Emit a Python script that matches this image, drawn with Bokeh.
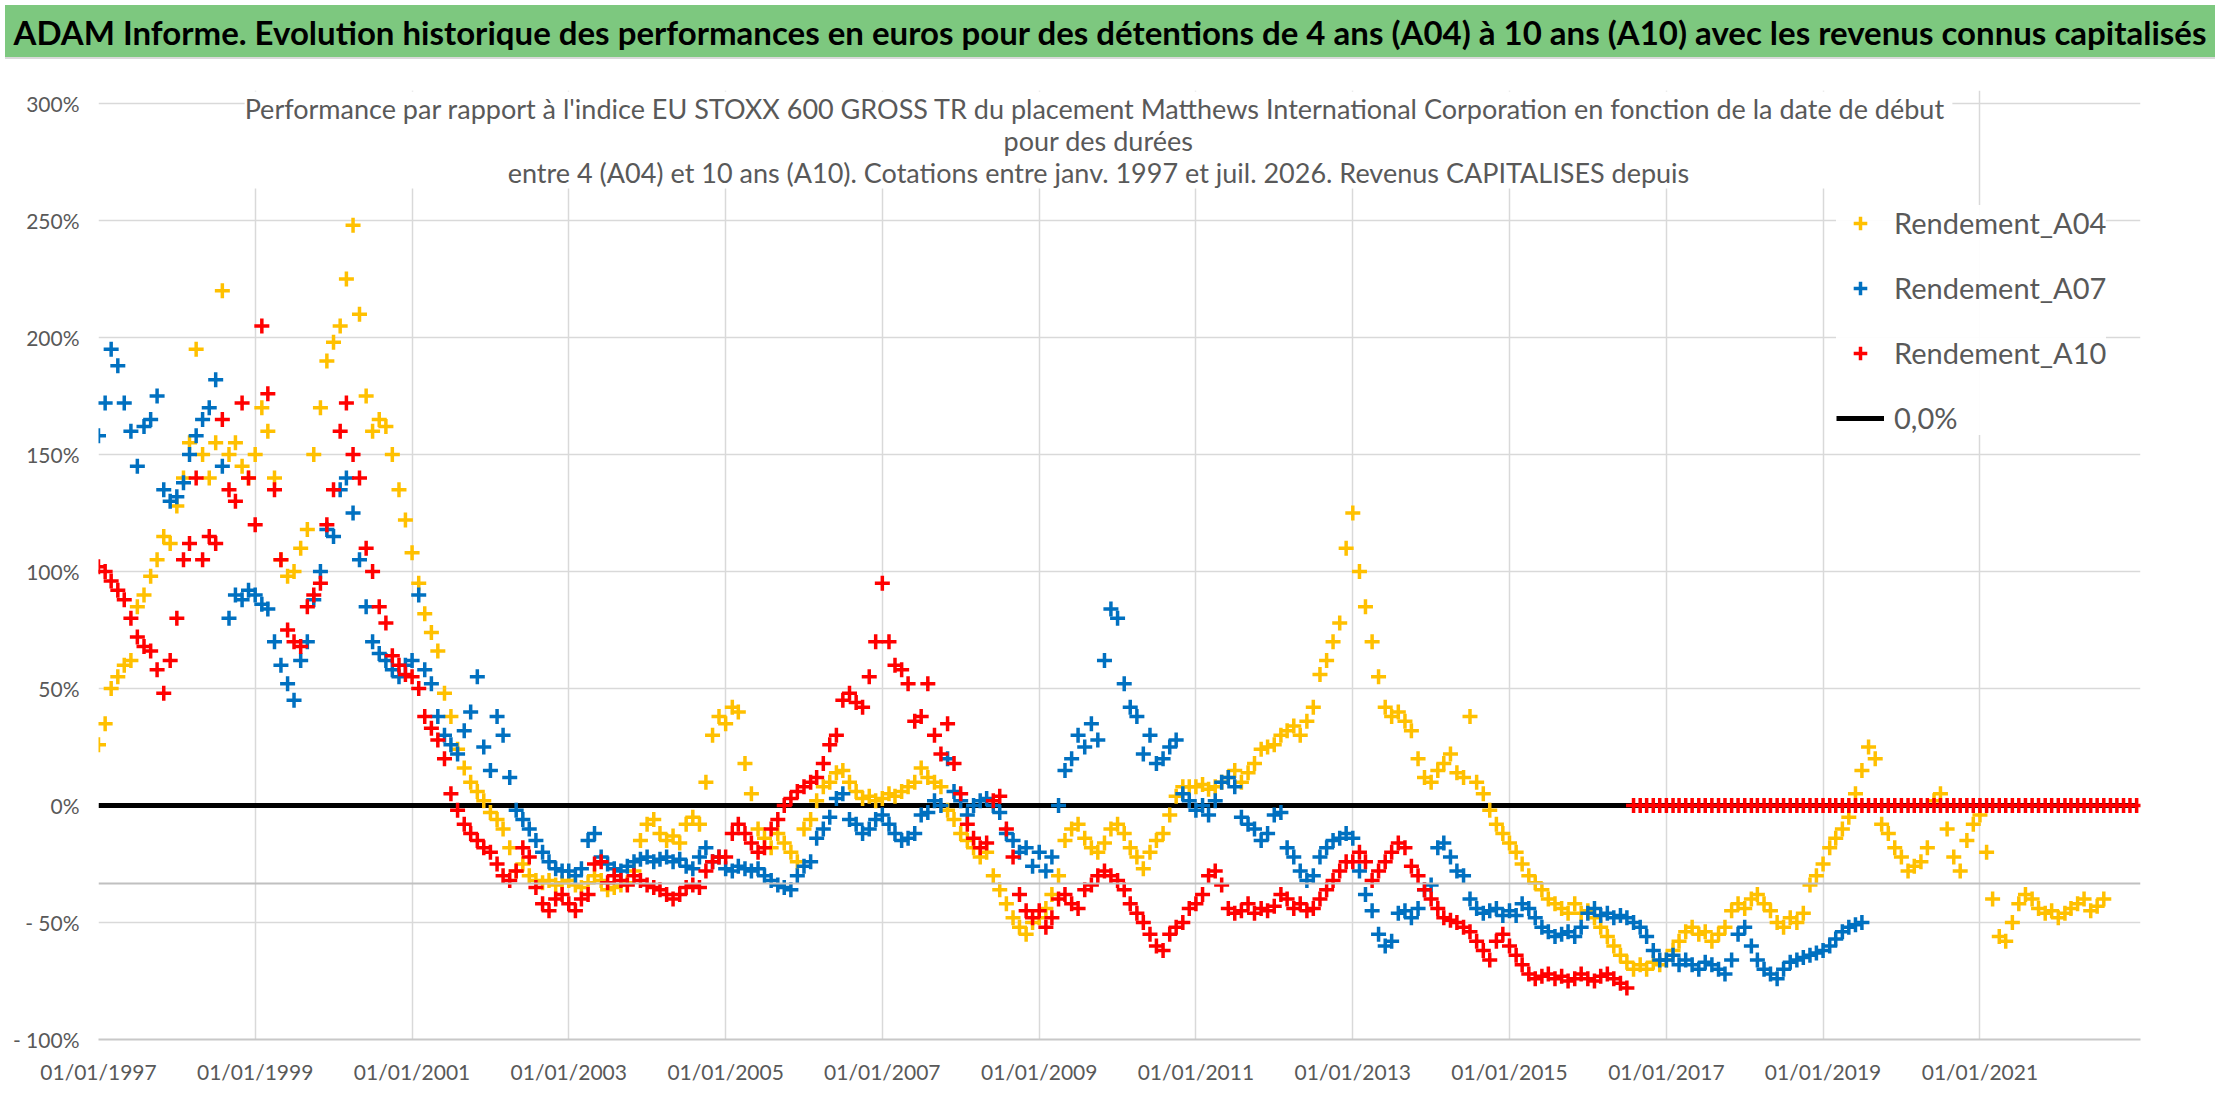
import pandas as pd
from bokeh.embed import file_html
from bokeh.layouts import column
from bokeh.models import (ColumnDataSource, DatetimeTickFormatter, Div, FixedTicker, Label,
                          Legend, LegendItem, Range1d, Span)
from bokeh.plotting import figure
from bokeh.resources import INLINE

FONT = "Lato"
GREY = "#595959"
GRID = "#D9D9D9"
BAND = "#7DC87F"

header = ("ADAM Informe. Evolution historique des performances en euros pour des détentions "
          "de 4 ans (A04) à 10 ans (A10) avec les revenus connus capitalisés")
chart_title = ("Performance par rapport à l'indice EU STOXX 600 GROSS TR  du placement Matthews "
               "International Corporation en fonction de la date de début\n"
               "pour des durées\n"
               "entre 4 (A04) et 10 ans (A10). Cotations entre janv. 1997 et juil. 2026. "
               "Revenus CAPITALISES depuis")

# monthly values (%)
a04_start = "1997-01-01"
a04 = [
    26, 35, 50, 55, 60, 62, 85, 90, 98, 105, 115, 112,
    128, 140, 155, 195, 150, 140, 155, 220, 150, 155, 145, 140,
    150, 170, 160, 140, 105, 98, 100, 110, 118, 150, 170, 190,
    198, 205, 225, 248, 210, 175, 160, 165, 162, 150, 135, 122,
    108, 95, 82, 74, 66, 48, 38, 24, 16, 10, 6, 2,
    -3, -6, -10, -18, -28, -25, -30, -32, -33, -32, -34, -33,
    -32, -34, -35, -33, -30, -32, -36, -35, -34, -33, -28, -15,
    -8, -6, -12, -15, -13, -16, -8, -5, -8, 10, 30, 38,
    35, 42, 40, 18, 5, -10, -14, -18, -12, -16, -20, -24,
    -10, -6, 2, 8, 10, 14, 15, 10, 6, 3, 4, 2,
    3, 5, 4, 6, 8, 10, 16, 12, 10, 8, -2, -6,
    -12, -15, -18, -22, -20, -30, -36, -42, -48, -52, -55, -50,
    -48, -44, -38, -30, -15, -10, -8, -14, -18, -20, -16, -10,
    -8, -12, -18, -22, -27, -20, -15, -12, -4, 4, 8, 8,
    8, 9, 7, 8, 10, 12, 15, 10, 14, 18, 24, 25,
    26, 30, 32, 34, 30, 36, 42, 56, 62, 70, 78, 110,
    125, 100, 85, 70, 55, 42, 38, 40, 36, 32, 20, 12,
    10, 15, 18, 22, 14, 12, 38, 10, 5, -2, -8, -12,
    -16, -20, -25, -30, -33, -36, -40, -42, -44, -46, -42, -46,
    -45, -48, -52, -56, -60, -64, -67, -70, -68, -70, -67, -68,
    -66, -62, -58, -54, -52, -55, -54, -58, -55, -52, -45, -42,
    -44, -40, -38, -42, -45, -50, -52, -48, -50, -46, -34, -30,
    -25, -18, -14, -10, -5, 5, 15, 25, 20, -8, -12, -18,
    -22, -28, -26, -24, -18, 2, 5, -10, -22, -28, -15, -8,
    -4, -20, -40, -56, -58, -50, -42, -38, -40, -44, -46, -45,
    -48, -46, -44, -42, -40, -45, -43, -40,
]

a07_start = "1997-01-01"
a07 = [
    158, 172, 195, 188, 172, 160, 145, 162, 165, 175, 135, 130,
    132, 138, 150, 158, 165, 170, 182, 145, 80, 90, 88, 92,
    90, 86, 84, 70, 60, 52, 45, 62, 70, 88, 100, 118,
    115, 135, 140, 125, 105, 85, 70, 65, 62, 58, 55, 60,
    62, 90, 58, 52, 38, 30, 26, 22, 32, 40, 55, 25,
    15, 38, 30, 12, -2, -6, -10, -15, -20, -24, -27, -28,
    -28, -30, -27, -15, -12, -22, -25, -27, -28, -26, -24, -23,
    -22, -24, -23, -22, -24, -23, -26, -27, -22, -18, -24, -22,
    -27, -28, -26, -27, -28, -27, -30, -32, -34, -35, -36, -30,
    -26, -24, -14, -10, -5, 3, 5, -6, -8, -12, -10, -6,
    -4, -8, -12, -15, -14, -12, -4, -3, 2, 0, 20, 6,
    2, -4, 0, 2, 3, 0, -3, -12, -15, -20, -18, -26,
    -20, -28, -22, 0, 15, 20, 30, 25, 35, 28, 62, 84,
    80, 52, 42, 38, 22, 30, 18, 20, 25, 28, 5, 2,
    -2, 0, -4, 2, 10, 12, 8, -5, -8, -10, -15, -12,
    -4, -3, -18, -22, -28, -32, -30, -22, -18, -15, -14, -12,
    -14, -28, -38, -45, -55, -60, -58, -46, -45, -48, -44, -36,
    -34, -18, -16, -22, -28, -30, -40, -44, -46, -45, -44, -47,
    -45, -47, -42, -44, -48, -52, -54, -56, -55, -54, -56, -52,
    -46, -44, -47, -46, -48, -47, -48, -50, -52, -56, -62, -66,
    -66, -64, -68, -66, -68, -70, -67, -68, -70, -72, -66, -55,
    -52, -60, -66, -70, -72, -74, -70, -67, -66, -65, -64, -63,
    -62, -60, -57, -54, -52, -51, -50,
]

a10_start = "1997-01-01"
a10 = [
    102, 100, 96, 92, 88, 80, 72, 68, 66, 58, 48, 62,
    80, 105, 112, 140, 105, 115, 112, 165, 135, 130, 172, 140,
    120, 205, 176, 135, 105, 75, 70, 68, 85, 90, 95, 120,
    135, 160, 172, 150, 140, 110, 100, 85, 78, 64, 60, 56,
    55, 50, 38, 33, 28, 20, 5, -2, -8, -12, -15, -18,
    -20, -25, -30, -32, -28, -18, -22, -35, -42, -45, -40, -38,
    -42, -45, -40, -38, -25, -24, -33, -30, -32, -34, -30, -32,
    -34, -35, -36, -38, -40, -38, -35, -34, -35, -28, -24, -22,
    -22, -12, -8, -12, -16, -20, -18, -10, -6, 0, 3, 6,
    8, 10, 12, 18, 26, 30, 45, 48, 44, 42, 55, 70,
    95, 70, 60, 58, 52, 36, 38, 52, 30, 22, 35, 18,
    5, -8, -14, -18, -16, 2, 4, -10, -22, -38, -45, -48,
    -45, -52, -48, -40, -38, -42, -44, -36, -34, -30, -28, -30,
    -32, -36, -42, -46, -50, -55, -60, -62, -55, -52, -50, -44,
    -42, -38, -30, -28, -34, -44, -46, -45, -42, -46, -44, -45,
    -43, -38, -40, -44, -42, -45, -44, -40, -36, -32, -28, -24,
    -24, -20, -24, -32, -28, -24, -20, -16, -18, -26, -30, -36,
    -40, -44, -48, -49, -50, -52, -54, -58, -62, -66, -58, -55,
    -60, -64, -68, -72, -74, -73, -72, -74, -73, -75, -74, -72,
    -74, -75, -73, -72, -74, -76, -78,
    0, 0, 0, 0, 0,
    0, 0, 0, 0, 0, 0, 0, 0, 0, 0, 0, 0,
    0, 0, 0, 0, 0, 0, 0, 0, 0, 0, 0, 0,
    0, 0, 0, 0, 0, 0, 0, 0, 0, 0, 0, 0,
    0, 0, 0, 0, 0, 0, 0, 0, 0, 0, 0, 0,
    0, 0, 0, 0, 0, 0, 0, 0, 0, 0, 0, 0,
    0, 0, 0, 0, 0, 0, 0, 0, 0, 0, 0, 0,
    0,
]

zero_dates = ["1997-01-01", "2023-01-01"]
zero_values = [0, 0]
ref_level = -33.3

x_ticks = ["1997-01-01", "1999-01-01", "2001-01-01", "2003-01-01", "2005-01-01",
           "2007-01-01", "2009-01-01", "2011-01-01", "2013-01-01", "2015-01-01",
           "2017-01-01", "2019-01-01", "2021-01-01"]
y_ticks = [-100, -50, 0, 50, 100, 150, 200, 250, 300]
y_labels = ["- 100%", "- 50%", "0%", "50%", "100%", "150%", "200%", "250%", "300%"]

series = [
    ("Rendement_A04", a04_start, a04, "#FFC000"),
    ("Rendement_A07", a07_start, a07, "#0070C0"),
    ("Rendement_A10", a10_start, a10, "#FF0000"),
]

# green banner with a thin grey rule underneath
head = Div(width=2210, height=56, text=(
    f'<div style="width:2210px;height:54px;line-height:54px;background:{BAND};'
    f'text-align:center;font-family:{FONT};font-weight:bold;font-size:33px;color:black;'
    f'white-space:nowrap;overflow:hidden;border-bottom:2px solid {GRID}">{header}</div>'))

# frame reaches a little above 300% so the title block can sit over the top gridline
p = figure(width=2200, height=1028, x_axis_type="datetime",
           x_range=Range1d(pd.Timestamp("1997-01-01"), pd.Timestamp("2023-01-19")),
           y_range=Range1d(-100, 305.6), output_backend="svg", toolbar_location=None,
           min_border_left=98, min_border_right=60, min_border_top=24, min_border_bottom=55,
           title=None)
p.outline_line_color = None

p.xaxis.ticker = FixedTicker(ticks=[pd.Timestamp(d).value // 10**6 for d in x_ticks])
fmt = "%d/%m/%Y"
p.xaxis.formatter = DatetimeTickFormatter(days=fmt, months=fmt, years=fmt)
p.yaxis.ticker = FixedTicker(ticks=y_ticks)
p.yaxis.major_label_overrides = {t: lab for t, lab in zip(y_ticks, y_labels)}

for ax in (p.xaxis, p.yaxis):
    ax.major_tick_line_color = None
    ax.minor_tick_line_color = None
    ax.major_label_text_font = FONT
    ax.major_label_text_color = GREY
    ax.major_label_text_font_size = "21px"
    ax.major_label_standoff = 13
p.yaxis.axis_line_color = None
p.xaxis.axis_line_color = "#C8C8C8"
p.xaxis.axis_line_width = 2

p.xgrid.grid_line_color = GRID
p.ygrid.grid_line_color = GRID
p.xgrid.grid_line_width = 1.5
p.ygrid.grid_line_width = 1.5

p.add_layout(Span(location=ref_level, dimension="width", line_color="#C0C0C0", line_width=2))

zero_src = ColumnDataSource(dict(date=pd.to_datetime(zero_dates), val=zero_values))
zero_line = p.line("date", "val", source=zero_src, line_color="black", line_width=5)

renderers = []
for name, start, vals, color in series:
    src = ColumnDataSource(dict(date=pd.date_range(start, periods=len(vals), freq="MS"), val=vals))
    r = p.scatter("date", "val", source=src, marker="cross", size=15, line_width=3.5,
                  line_color=color)
    renderers.append((name, r))

p.add_layout(Label(x=1000, y=948, x_units="screen", y_units="screen", text=chart_title,
                   text_align="center", text_baseline="top", text_font=FONT,
                   text_font_size="27px", text_color=GREY, text_line_height=0.97,
                   background_fill_color="white"))

items = [LegendItem(label=name, renderers=[r]) for name, r in renderers]
items.append(LegendItem(label="0,0%", renderers=[zero_line]))
legend = Legend(items=items, location=(1738, 604), background_fill_color="white",
                border_line_color=None, label_text_font=FONT, label_text_font_size="29px",
                label_text_color=GREY, glyph_width=48, glyph_height=34, label_height=34,
                spacing=30, padding=20, label_standoff=10)
p.add_layout(legend)

layout = column(head, p)
open("out.html", "w").write(file_html(layout, INLINE))
